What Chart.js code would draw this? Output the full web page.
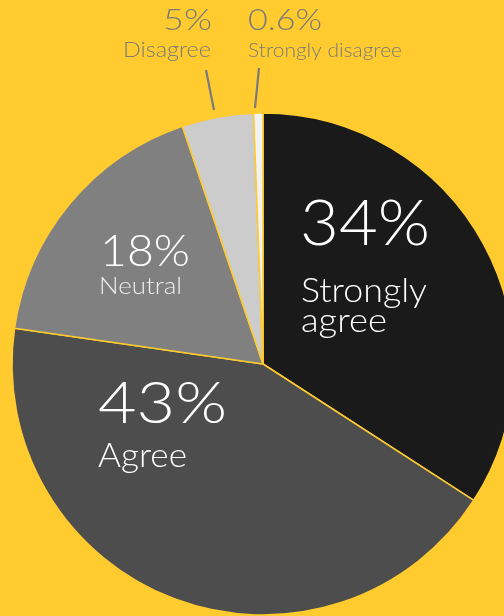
<!DOCTYPE html>
<html><head><meta charset="utf-8">
<script src="https://cdn.jsdelivr.net/npm/chart.js@4/dist/chart.umd.min.js"></script>
<style>
html,body{margin:0;padding:0;background:#FFCB2F;overflow:hidden;width:504px;height:616px}
#wrap{position:absolute;left:0;top:0;width:526px;height:728px}
</style></head><body>
<div id="wrap"><canvas id="c" width="526" height="728"></canvas></div>
<script>
const categories = ["Strongly agree", "Agree", "Neutral", "Disagree", "Strongly disagree"];
const values = [34.1, 43.1, 17.5, 4.6, 0.6];
const pctLabels = ["34%", "43%", "18%", "5%", "0.6%"];
const sliceColors = ["#1a1a1a", "#4d4d4d", "#808080", "#cccccc", "#f2f2f2"];

const FONT = "Lato";
function drawFit(ctx, text, x, y, size, width, align, weight) {
  ctx.font = (weight || 300) + " " + size + "px " + FONT;
  const w = ctx.measureText(text).width;
  const s = width ? width / w : 1;
  ctx.save();
  ctx.translate(x, y);
  ctx.scale(s, 1);
  ctx.textAlign = align || "left";
  ctx.textBaseline = "alphabetic";
  ctx.fillText(text, 0, 0);
  ctx.restore();
}

const labelPlugin = {
  id: "labels",
  afterDatasetsDraw(chart) {
    const ctx = chart.ctx;
    const arc = chart.getDatasetMeta(0).data[0];
    const cx = arc.x, cy = arc.y;
    ctx.save();
    // Strongly agree
    ctx.fillStyle = "#ffffff";
    drawFit(ctx, pctLabels[0], cx + 37, cy - 119, 63, 130);
    const sa = categories[0].split(" ");
    drawFit(ctx, sa[0], cx + 38, cy - 62, 34, 126);
    drawFit(ctx, sa[1], cx + 38, cy - 32, 34, 86);
    // Agree
    drawFit(ctx, pctLabels[1], cx - 165, cy + 59, 58, 129);
    drawFit(ctx, categories[1], cx - 165, cy + 103, 33, 89);
    // Neutral
    drawFit(ctx, pctLabels[2], cx - 163, cy - 98, 43, 90);
    ctx.fillStyle = "#eeeeee";
    drawFit(ctx, categories[2], cx - 164, cy - 70, 24, 83);
    // Outer labels
    ctx.fillStyle = "#7a7a7a";
    drawFit(ctx, pctLabels[3], cx - 51, cy - 334, 30, 49, "right");
    drawFit(ctx, categories[3], cx - 52, cy - 307, 21, 88, "right");
    drawFit(ctx, pctLabels[4], cx - 15, cy - 334, 30, 74, "left");
    drawFit(ctx, categories[4], cx - 15, cy - 307, 20, 154, "left");
    // leader lines
    ctx.strokeStyle = "#7a7a7a";
    ctx.lineWidth = 2.2;
    ctx.beginPath();
    ctx.moveTo(cx - 57, cy - 294); ctx.lineTo(cx - 49, cy - 254);
    ctx.moveTo(cx - 4, cy - 296); ctx.lineTo(cx - 8, cy - 256);
    ctx.stroke();
    ctx.restore();
  }
};

new Chart(document.getElementById("c"), {
  type: "pie",
  data: {
    labels: categories,
    datasets: [{
      data: values,
      backgroundColor: sliceColors,
      borderColor: "#FFCB2F",
      borderWidth: 1.5
    }]
  },
  options: {
    responsive: false,
    devicePixelRatio: 1,
    animation: false,
    radius: 251,
    layout: { padding: { left: 12, right: 12, top: 113, bottom: 113 } },
    plugins: { legend: { display: false }, tooltip: { enabled: false } }
  },
  plugins: [labelPlugin]
});
</script>
</body></html>
